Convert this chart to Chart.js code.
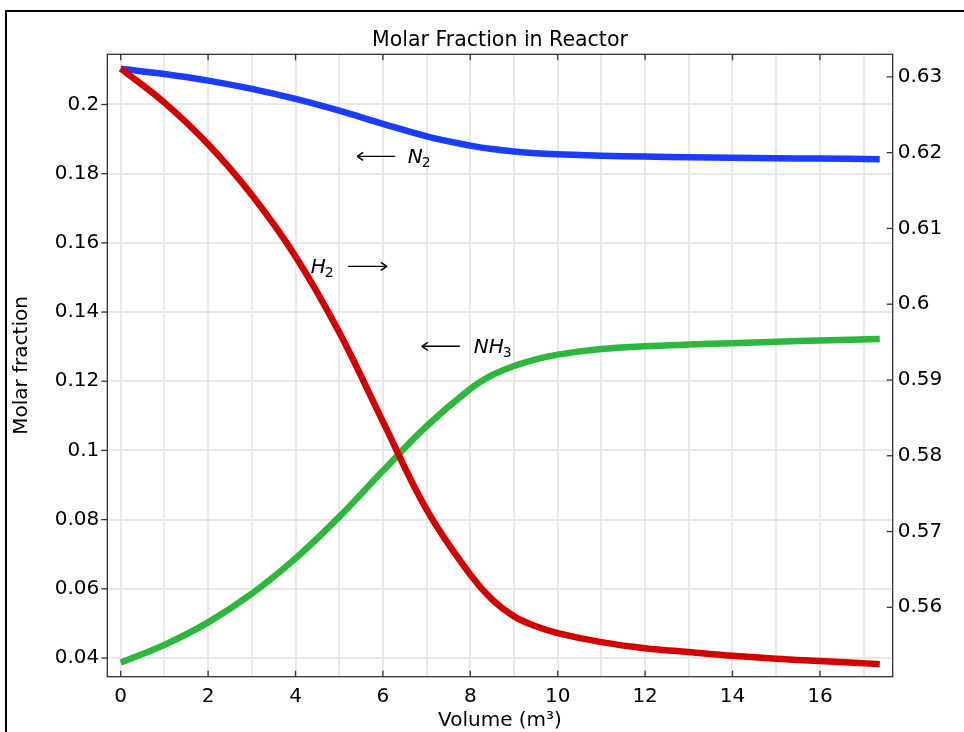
<!DOCTYPE html>
<html>
<head>
<meta charset="utf-8">
<script src="https://cdn.jsdelivr.net/npm/chart.js@4.4.1/dist/chart.umd.min.js"></script>
<style>
  html, body { margin: 0; padding: 0; background: #fff; overflow: hidden; }
  #wrap { position: relative; width: 964px; height: 732px; }
  #c { position: absolute; left: 0; top: 0; }
  #frame { position: absolute; left: 5px; top: 10px; width: 2000px; height: 2000px;
           border-top: 2px solid #000; border-left: 2px solid #000; pointer-events: none; }
</style>
</head>
<body>
<div id="wrap">
  <canvas id="c" width="964" height="732"></canvas>
  <div id="frame"></div>
</div>
<script>
// Reactor volume (m^3) and molar fractions along it
const volume = [0, 1, 2, 3, 4, 5, 6, 7, 8, 8.5, 9, 9.5, 10, 11, 12, 13, 14, 15, 16, 17.37];
const n2  = [0.2103, 0.2088, 0.2069, 0.2045, 0.2016, 0.1982, 0.1944, 0.1908, 0.1881, 0.1871,
             0.1864, 0.1859, 0.1856, 0.1852, 0.18495, 0.18475, 0.1846, 0.18445, 0.18435, 0.1842];
const h2  = [0.6311, 0.6266, 0.6211, 0.6144, 0.6063, 0.5963, 0.5845, 0.5729, 0.5643, 0.5610,
             0.5588, 0.5575, 0.5566, 0.5554, 0.5546, 0.5541, 0.5536, 0.5532, 0.5529, 0.5525];
const nh3 = [0.0387, 0.0438, 0.0503, 0.0586, 0.0688, 0.0808, 0.0941, 0.1070, 0.1178, 0.12175,
             0.1244, 0.12635, 0.1277, 0.1293, 0.1301, 0.1306, 0.1310, 0.1314, 0.1318, 0.1322];

// Axis ticks
const xGridTicks = [0, 1, 2, 3, 4, 5, 6, 7, 8, 9, 10, 11, 12, 13, 14, 15, 16, 17];
const xLabelTicks = [0, 2, 4, 6, 8, 10, 12, 14, 16];
const leftTicks = [0.04, 0.06, 0.08, 0.1, 0.12, 0.14, 0.16, 0.18, 0.2];
const leftTickLabels = ['0.04', '0.06', '0.08', '0.1', '0.12', '0.14', '0.16', '0.18', '0.2'];
const rightTicks = [0.56, 0.57, 0.58, 0.59, 0.6, 0.61, 0.62, 0.63];
const rightTickLabels = ['0.56', '0.57', '0.58', '0.59', '0.6', '0.61', '0.62', '0.63'];

// Species labels with arrows pointing at the axis each curve belongs to
// (placed in left-axis coordinates)
const speciesNotes = [
  { main: 'N',  sub: '2', textX: 6.57, y: 0.1850, arrowFrom: 6.28, arrowTo: 5.41 },
  { main: 'H',  sub: '2', textX: 4.35, y: 0.1532, arrowFrom: 5.20, arrowTo: 6.09 },
  { main: 'NH', sub: '3', textX: 8.08, y: 0.1301, arrowFrom: 7.76, arrowTo: 6.89 }
];

const FONT = 'DejaVu Sans';
const pts = arr => volume.map((v, i) => ({ x: v, y: arr[i] }));

const decor = {
  id: 'decor',
  afterDraw(chart) {
    const { ctx, chartArea: a, scales } = chart;
    const x = scales.x, y = scales.y, y1 = scales.y1;
    const line = (x0, y0, x1, y1_) => { ctx.beginPath(); ctx.moveTo(x0, y0); ctx.lineTo(x1, y1_); ctx.stroke(); };
    ctx.save();
    ctx.strokeStyle = '#333';
    ctx.lineWidth = 1.3;
    ctx.strokeRect(a.left, a.top, a.right - a.left, a.bottom - a.top);
    xLabelTicks.forEach(v => {
      const px = x.getPixelForValue(v);
      line(px, a.bottom, px, a.bottom - 6);
      line(px, a.top, px, a.top + 6);
    });
    leftTicks.forEach(v => {
      const py = y.getPixelForValue(v);
      line(a.left - 6, py, a.left, py);
    });
    rightTicks.forEach(v => {
      const py = y1.getPixelForValue(v);
      line(a.right - 6, py, a.right, py);
    });

    // species labels
    ctx.strokeStyle = '#000';
    ctx.fillStyle = '#000';
    ctx.lineWidth = 1.4;
    speciesNotes.forEach(n => {
      const py = y.getPixelForValue(n.y);
      const ax0 = x.getPixelForValue(n.arrowFrom);
      const ax1 = x.getPixelForValue(n.arrowTo);
      line(ax0, py, ax1, py);
      const dir = Math.sign(ax1 - ax0);
      line(ax1, py, ax1 - dir * 6, py - 4);
      line(ax1, py, ax1 - dir * 6, py + 4);
      const tx = x.getPixelForValue(n.textX);
      ctx.textBaseline = 'middle';
      ctx.textAlign = 'left';
      ctx.font = 'italic 20px "' + FONT + '"';
      ctx.fillText(n.main, tx, py + 1);
      const w = ctx.measureText(n.main).width;
      ctx.font = '14px "' + FONT + '"';
      ctx.fillText(n.sub, tx + w - 1, py + 7);
    });
    ctx.restore();
  }
};

new Chart(document.getElementById('c'), {
  type: 'line',
  data: {
    datasets: [
      { label: 'H2', data: pts(h2), yAxisID: 'y1', borderColor: '#d40000' },
      { label: 'N2', data: pts(n2), yAxisID: 'y', borderColor: '#1b3dff' },
      { label: 'NH3', data: pts(nh3), yAxisID: 'y', borderColor: '#2bb83c' }
    ].map(d => Object.assign(d, {
      borderWidth: 6.5, pointRadius: 0, fill: false, tension: 0.4
    }))
  },
  plugins: [decor],
  options: {
    responsive: false,
    animation: false,
    devicePixelRatio: 1,
    layout: { padding: 0 },
    plugins: {
      legend: { display: false },
      tooltip: { enabled: false },
      title: {
        display: true,
        fullSize: false,
        text: 'Molar Fraction in Reactor',
        color: '#000',
        font: { family: FONT, size: 20.5, weight: 'normal', lineHeight: 1.2 },
        padding: { top: 28, bottom: 1.7 }
      }
    },
    scales: {
      x: {
        type: 'linear',
        min: -0.307,
        max: 17.666,
        afterBuildTicks: s => { s.ticks = xGridTicks.map(v => ({ value: v })); },
        afterFit: s => { s.height = 55.3; },
        ticks: {
          autoSkip: false, maxRotation: 0, padding: 8, color: '#000',
          font: { family: FONT, size: 20 },
          callback: v => xLabelTicks.includes(v) ? String(v) : ''
        },
        grid: { color: '#e8e8e8', lineWidth: 2, drawTicks: false },
        border: { display: false },
        title: {
          display: true, text: 'Volume (m³)', color: '#000',
          font: { family: FONT, size: 20, lineHeight: 1.2 },
          padding: { top: 0, bottom: -1 }
        }
      },
      y: {
        type: 'linear',
        position: 'left',
        min: 0.0346,
        max: 0.2145,
        afterBuildTicks: s => { s.ticks = leftTicks.map(v => ({ value: v })); },
        afterFit: s => { s.width = 107.3; },
        ticks: {
          padding: 8, color: '#000',
          font: { family: FONT, size: 20 },
          callback: (v, i) => leftTickLabels[i]
        },
        grid: { color: '#e8e8e8', lineWidth: 2, drawTicks: false },
        border: { display: false },
        title: {
          display: true, text: 'Molar fraction', color: '#000',
          font: { family: FONT, size: 20, lineHeight: 1.2 },
          padding: { top: 10, bottom: 0 }
        }
      },
      y1: {
        type: 'linear',
        position: 'right',
        min: 0.55084,
        max: 0.63298,
        afterBuildTicks: s => { s.ticks = rightTicks.map(v => ({ value: v })); },
        afterFit: s => { s.width = 71.3; },
        ticks: {
          padding: 5, color: '#000',
          font: { family: FONT, size: 20 },
          callback: (v, i) => rightTickLabels[i]
        },
        grid: { display: false, drawTicks: false },
        border: { display: false }
      }
    }
  }
});
</script>
</body>
</html>
